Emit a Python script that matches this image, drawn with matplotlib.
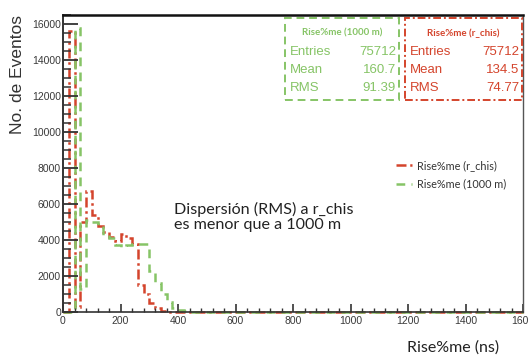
import numpy as np
import matplotlib
matplotlib.use("Agg")
import matplotlib.pyplot as plt
from matplotlib.patches import Rectangle
from matplotlib.ticker import MultipleLocator

# Histogram binning (ns) and counts per bin
bin_width = 20
bin_edges = np.arange(0, 1600 + bin_width, bin_width)

counts_rchis_head = [0, 15600, 300, 5000, 6700, 5400, 4800, 4450, 4150, 3950,
                     4350, 4100, 3800, 1500, 1000, 500, 200, 50]
counts_1000m_head = [0, 0, 15800, 1300, 5100, 5000, 4800, 4300, 4100, 3700,
                     3600, 3700, 3800, 3800, 3800, 2300, 1600, 1000, 550, 250,
                     120, 50]

n_bins = len(bin_edges) - 1
counts_rchis = np.zeros(n_bins)
counts_rchis[:len(counts_rchis_head)] = counts_rchis_head
counts_1000m = np.zeros(n_bins)
counts_1000m[:len(counts_1000m_head)] = counts_1000m_head

label_rchis = "Rise%me (r_chis)"
label_1000m = "Rise%me (1000 m)"

stats_rchis = [("Entries", "75712"), ("Mean", "134.5"), ("RMS", "74.77")]
stats_1000m = [("Entries", "75712"), ("Mean", "160.7"), ("RMS", "91.39")]

x_ticks = np.arange(0, 1601, 200)
y_ticks = np.arange(0, 16001, 2000)

RED = "#d4442c"
GREEN = "#86c466"
W, H = 528, 356

fig = plt.figure(figsize=(W / 100, H / 100), dpi=100)
fig.patch.set_facecolor("white")
ax = fig.add_axes([63 / W, 1 - 312 / H, 460 / W, 297 / H])

ax.stairs(counts_rchis, bin_edges, color=RED, lw=1.8,
          linestyle=(0, (4, 1.5, 1, 1.5)), label=label_rchis, clip_on=False)
ax.stairs(counts_1000m, bin_edges, color=GREEN, lw=1.8,
          linestyle=(0, (3.5, 2.5)), label=label_1000m, clip_on=False)

ax.set_xlim(0, 1600)
ax.set_ylim(0, 16500)
ax.set_xticks(x_ticks)
ax.set_yticks(y_ticks)
ax.xaxis.set_minor_locator(MultipleLocator(40))
ax.yaxis.set_minor_locator(MultipleLocator(500))

tick_font = dict(family="Liberation Sans", size=7.5)
ax.set_xticklabels([str(v) for v in x_ticks], fontdict=tick_font, color="#3a3a3a")
ax.set_yticklabels([str(v) for v in y_ticks], fontdict=tick_font, color="#3a3a3a")
ax.tick_params(axis="y", which="major", direction="in", length=11, width=1.3,
               color="#333333", pad=1.5)
ax.tick_params(axis="y", which="minor", direction="in", length=5.5, width=1.1,
               color="#333333")
ax.tick_params(axis="x", which="major", direction="in", length=6, width=1.2,
               color="#333333", pad=3)
ax.tick_params(axis="x", which="minor", direction="in", length=3, width=1.0,
               color="#333333")

ax.spines["top"].set_linewidth(1.8)
ax.spines["top"].set_color("#111111")
ax.spines["left"].set_linewidth(1.4)
ax.spines["left"].set_color("#333333")
ax.spines["bottom"].set_linewidth(1.2)
ax.spines["bottom"].set_color("#333333")
ax.spines["right"].set_linewidth(1.0)
ax.spines["right"].set_color("#555555")

# Axis titles
fig.text(18 / W, 1 - 74 / H, "No. de Eventos", rotation=90, ha="center",
         va="center", family="Liberation Sans", size=12.5, color="#333333")
fig.text(453 / W, 1 - 348 / H, "Rise%me (ns)", ha="center", va="center",
         family="Lato", size=11.5, color="#222222")

# Annotation
fig.text(174 / W, 1 - 217 / H, "Dispersión (RMS) a r_chis\nes menor que a 1000 m",
         ha="left", va="center", family="Lato", size=11.6, color="#222222",
         linespacing=1.12)

# Legend
leg = ax.legend(loc="upper left", bbox_to_anchor=((386 - 63) / 460, (312 - 150) / 297),
                frameon=False, prop=dict(family="Lato", size=7.8),
                handlelength=1.5, handletextpad=0.5, labelspacing=0.7)
for txt in leg.get_texts():
    txt.set_color("#333333")


def stat_box(x0, x1, y0, y1, title, rows, color, ls):
    rect = Rectangle((x0 / W, 1 - y1 / H), (x1 - x0) / W, (y1 - y0) / H,
                     transform=fig.transFigure, fill=False, edgecolor=color,
                     lw=1.4, linestyle=ls)
    fig.add_artist(rect)
    fig.text((x0 + x1) / 2 / W, 1 - 33 / H, title, ha="center", va="center",
             family="Lato", size=7, weight="bold", color=color)
    for (name, val), yc in zip(rows, [52, 70, 88]):
        fig.text((x0 + 5) / W, 1 - yc / H, name, ha="left", va="center",
                 family="Liberation Sans", size=9.5, color=color)
        fig.text((x1 - 3) / W, 1 - yc / H, val, ha="right", va="center",
                 family="Liberation Sans", size=9.5, color=color)


stat_box(285, 399, 18, 100, label_1000m, stats_1000m, GREEN, (0, (4, 2.5)))
stat_box(405, 522, 18, 100, label_rchis, stats_rchis, RED, (0, (4, 1.5, 1, 1.5)))

fig.savefig("out.png", dpi=100)
